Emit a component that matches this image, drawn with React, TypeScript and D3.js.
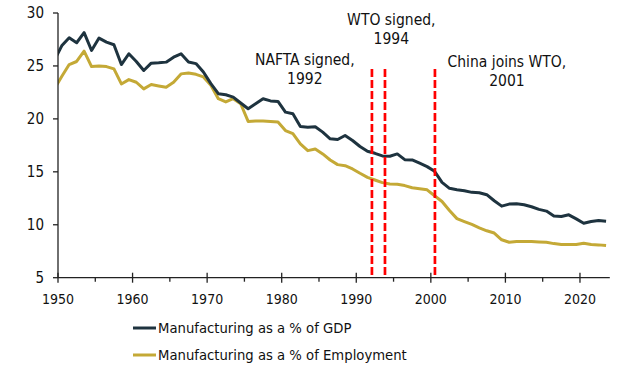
import * as d3 from "d3"

// annual values, plotted at mid-year
const years = d3.range(1949, 2024)

const gdpShare = [
  25.5, 26.9, 27.66, 27.19, 28.14, 26.46, 27.63, 27.25, 27.0, 25.13,
  26.15, 25.42, 24.57, 25.26, 25.3, 25.36, 25.83, 26.15, 25.38, 25.22,
  24.43, 23.33, 22.38, 22.28, 22.06, 21.5, 20.96, 21.43, 21.9, 21.7,
  21.65, 20.64, 20.48, 19.28, 19.22, 19.25, 18.75, 18.12, 18.05, 18.43,
  17.96, 17.39, 16.94, 16.75, 16.5, 16.47, 16.69, 16.15, 16.12, 15.81,
  15.49, 15.05, 14.0, 13.44, 13.31, 13.22, 13.06, 13.03, 12.84, 12.27,
  11.76, 11.95, 11.98, 11.89, 11.7, 11.45, 11.29, 10.82, 10.78, 10.94,
  10.56, 10.15, 10.31, 10.4, 10.34,
]

const empShare = [
  22.8, 24.0, 25.13, 25.42, 26.4, 24.94, 25.0, 24.94, 24.72, 23.3,
  23.71, 23.46, 22.83, 23.24, 23.11, 22.99, 23.46, 24.25, 24.34, 24.21,
  23.96, 23.17, 21.91, 21.6, 21.91, 21.43, 19.76, 19.79, 19.79, 19.76,
  19.7, 18.9, 18.6, 17.64, 17.0, 17.16, 16.69, 16.12, 15.68, 15.58,
  15.27, 14.86, 14.48, 14.23, 13.98, 13.85, 13.82, 13.7, 13.5, 13.41,
  13.3, 12.74, 12.2, 11.35, 10.58, 10.3, 10.03, 9.71, 9.43, 9.22,
  8.58, 8.35, 8.42, 8.42, 8.42, 8.38, 8.35, 8.22, 8.13, 8.13,
  8.13, 8.26, 8.13, 8.1, 8.04,
]

const seriesNames = ["Manufacturing as a % of GDP", "Manufacturing as a % of Employment"]
const seriesColors = ["#1e333f", "#c4a936"]

const xTicks = [1950, 1960, 1970, 1980, 1990, 2000, 2010, 2020]
const xMinorTicks = [1955, 1965, 1975, 1985, 1995, 2005, 2015]
const yTicks = [5, 10, 15, 20, 25, 30]

const eventLabels = [
  ["NAFTA signed,", "1992"],
  ["WTO signed,", "1994"],
  ["China joins WTO,", "2001"],
]
const eventX = [1992.1, 1993.85, 2000.55]
const labelX = [1983.1, 1994.7, 2010.2]
const labelY = [65, 25, 67]

const W = 620
const H = 369
const MARGIN = { top: 13, right: 10, bottom: 92, left: 58 }
const FONT = "'DejaVu Sans Condensed', 'DejaVu Sans', sans-serif"

export default function App() {
  const x = d3.scaleLinear().domain([1950, 2024]).range([MARGIN.left, 609.8])
  const y = d3.scaleLinear().domain([5, 30]).range([H - MARGIN.bottom + 0.7, MARGIN.top])
  const y0 = y(5)

  const line = d3
    .line<number>()
    .x((_, i) => x(years[i] + 0.5))
    .y((d) => y(d))

  return (
    <div style={{ position: "absolute", left: 0, top: 0 }}>
      <svg width={W} height={H} style={{ fontFamily: FONT, fontStretch: "condensed", display: "block" }}>
        <defs>
          <clipPath id="plot">
            <rect x={x(1950)} y={0} width={x(2024) - x(1950) + 5} height={y0} />
          </clipPath>
        </defs>
        <rect width={W} height={H} fill="#fff" />

        <g clipPath="url(#plot)" fill="none" strokeWidth={3} strokeLinejoin="round">
          <path d={line(empShare)!} stroke={seriesColors[1]} />
          <path d={line(gdpShare)!} stroke={seriesColors[0]} />
        </g>

        {eventX.map((e, i) => (
          <line
            key={i}
            x1={x(e)}
            x2={x(e)}
            y1={69}
            y2={y0}
            stroke="#ff0000"
            strokeWidth={2.7}
            strokeDasharray="8,3"
          />
        ))}

        {eventLabels.map((lines, i) => (
          <text key={i} textAnchor="middle" fontSize={15.5} fill="#111">
            {lines.map((t, j) => (
              <tspan key={j} x={x(labelX[i])} y={labelY[i] + j * 19}>
                {t}
              </tspan>
            ))}
          </text>
        ))}

        {/* axes */}
        <line x1={x(1950)} x2={x(1950)} y1={y(30)} y2={y0} stroke="#222" strokeWidth={1.3} />
        <line x1={x(1950)} x2={x(2024)} y1={y0} y2={y0} stroke="#222" strokeWidth={1.3} />
        {yTicks.map((t) => (
          <g key={t}>
            <line x1={x(1950) - 5} x2={x(1950)} y1={y(t)} y2={y(t)} stroke="#222" strokeWidth={1.3} />
            <text x={44} y={y(t)} dy="0.36em" textAnchor="end" fontSize={15} fill="#111">
              {t}
            </text>
          </g>
        ))}
        {xTicks.map((t) => (
          <g key={t}>
            <line x1={x(t)} x2={x(t)} y1={y0 - 5} y2={y0 + 5} stroke="#222" strokeWidth={1.3} />
            <text x={x(t)} y={303.5} textAnchor="middle" fontSize={14} fill="#111">
              {t}
            </text>
          </g>
        ))}
        {xMinorTicks.map((t) => (
          <line key={t} x1={x(t)} x2={x(t)} y1={y0} y2={y0 + 4} stroke="#222" strokeWidth={1.3} />
        ))}

        {/* legend */}
        {seriesNames.map((name, i) => (
          <g key={name} transform={`translate(133,${328 + i * 27})`}>
            <line x1={0} x2={23} y1={0} y2={0} stroke={seriesColors[i]} strokeWidth={3} />
            <text x={25} y={0} dy="0.36em" fontSize={14.7} fill="#111">
              {name}
            </text>
          </g>
        ))}
      </svg>
    </div>
  )
}
